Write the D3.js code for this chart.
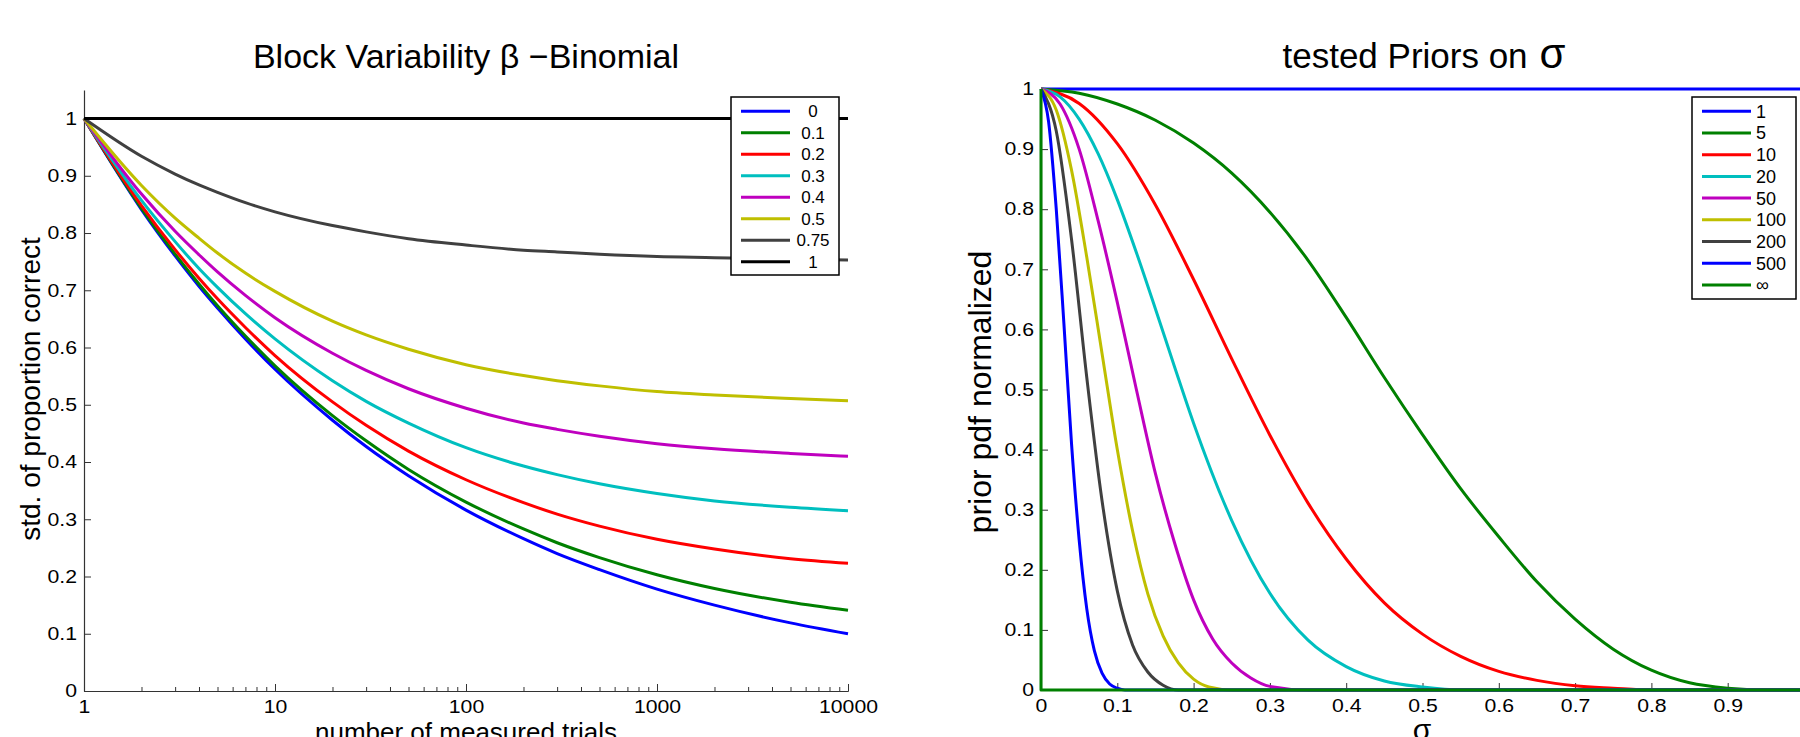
<!DOCTYPE html>
<html>
<head>
<meta charset="utf-8">
<script src="https://cdn.jsdelivr.net/npm/d3@7"></script>
<style>
  html, body { margin: 0; padding: 0; background: #fff; }
  svg { display: block; }
  text { font-family: "Liberation Sans", Arial, Helvetica, sans-serif; fill: #000; }
</style>
</head>
<body>
<script>
// ---------------- data: left panel ----------------
const trials = [1,2,3,4,5,7,10,20,30,50,100,200,300,500,1000,2000,5000,10000];
const betaLabels = ["0","0.1","0.2","0.3","0.4","0.5","0.75","1"];
const betaColors = ["#0000ff","#008000","#ff0000","#00bfbf","#bf00bf","#bfbf00","#404040","#000000"];
const std_b0   = [1,0.841,0.760,0.707,0.669,0.615,0.562,0.473,0.427,0.376,0.316,0.266,0.240,0.212,0.178,0.150,0.119,0.100];
const std_b01  = [1,0.843,0.763,0.711,0.673,0.620,0.568,0.481,0.437,0.387,0.330,0.283,0.259,0.233,0.203,0.179,0.155,0.141];
const std_b02  = [1,0.848,0.771,0.721,0.685,0.635,0.586,0.505,0.464,0.419,0.369,0.329,0.309,0.288,0.265,0.248,0.231,0.223];
const std_b03  = [1,0.857,0.785,0.738,0.705,0.659,0.615,0.542,0.506,0.468,0.425,0.393,0.378,0.362,0.345,0.332,0.321,0.315];
const std_b04  = [1,0.868,0.803,0.762,0.732,0.691,0.652,0.590,0.560,0.528,0.494,0.468,0.457,0.445,0.432,0.423,0.415,0.410];
const std_b05  = [1,0.883,0.826,0.791,0.765,0.730,0.698,0.646,0.622,0.597,0.570,0.551,0.542,0.533,0.523,0.517,0.511,0.507];
const std_b075 = [1,0.934,0.903,0.884,0.871,0.853,0.837,0.813,0.802,0.790,0.779,0.770,0.767,0.763,0.759,0.757,0.754,0.753];
const std_b1   = [1,1,1,1,1,1,1,1,1,1,1,1,1,1,1,1,1,1];
const leftYTicks = [0,0.1,0.2,0.3,0.4,0.5,0.6,0.7,0.8,0.9,1];
const leftXMajor = [1,10,100,1000,10000];

// ---------------- data: right panel ----------------
const priorLabels = ["1","5","10","20","50","100","200","500","\u221E"];
const priorColors = ["#0000ff","#008000","#ff0000","#00bfbf","#bf00bf","#bfbf00","#404040","#0000ff","#008000"];
const prior1Sigma   = [0,1];
const prior1        = [1,1];
const prior5Sigma   = [0,.05,.1,.15,.2,.25,.3,.35,.4,.45,.5,.55,.6,.65,.7,.75,.8,.85,.9,.95,1];
const prior5        = [1,.993,.975,.948,.91,.86,.795,.715,.62,.52,.425,.335,.255,.18,.118,.068,.033,.012,.003,0,0];
const prior10Sigma  = [0,.05,.1,.15,.2,.25,.3,.35,.4,.45,.5,.55,.6,.65,.7,.75,.8,1];
const prior10       = [1,.976,.909,.807,.683,.551,.424,.311,.218,.145,.093,.056,.031,.016,.007,.003,0,0];
const prior20Sigma  = [0,.025,.05,.075,.1,.125,.15,.175,.2,.25,.3,.35,.4,.45,.5,.55,1];
const prior20       = [1,.987,.95,.892,.816,.728,.634,.538,.444,.282,.161,.083,.039,.015,.005,0,0];
const prior50Sigma  = [0,.025,.05,.075,.1,.125,.15,.175,.2,.225,.25,.275,.3,.35,1];
const prior50       = [1,.975,.9,.78,.645,.5,.36,.245,.15,.085,.045,.02,.006,0,0];
const prior100Sigma = [0,.02,.04,.06,.08,.1,.12,.14,.16,.18,.2,.22,.25,1];
const prior100      = [1,.965,.865,.72,.56,.4,.265,.16,.09,.045,.018,.005,0,0];
const prior200Sigma = [0,.02,.04,.06,.08,.1,.12,.14,.16,.18,1];
const prior200      = [1,.93,.75,.52,.315,.165,.075,.03,.008,0,0];
const prior500Sigma = [0,.01,.02,.03,.04,.05,.06,.07,.08,.09,.1,.11,1];
const prior500      = [1,.945,.8,.61,.41,.25,.135,.065,.028,.01,.003,0,0];
const priorInfSigma = [0,0,1];
const priorInf      = [1,0,0];
const rightYTicks = [0,0.1,0.2,0.3,0.4,0.5,0.6,0.7,0.8,0.9,1];
const rightXTicks = [0,0.1,0.2,0.3,0.4,0.5,0.6,0.7,0.8,0.9];

// ---------------- drawing ----------------
const W = 1800, H = 737;
const svg = d3.select("body").append("svg").attr("width", W).attr("height", H);

const zip = (xs, ys) => xs.map((x, i) => [x, ys[i]]);
const STRETCH = 1.18;

function styleAxis(g) {
  g.select(".domain").attr("stroke", "#333").attr("stroke-width", 1.2);
  g.selectAll(".tick line").attr("stroke", "#333").attr("stroke-width", 1);
  g.selectAll(".tick text").attr("font-size", 18).attr("fill", "#000")
    .attr("font-family", "'Liberation Sans', Arial, Helvetica, sans-serif")
    .attr("x", function () { const x = this.getAttribute("x"); return x === null ? null : (+x) / STRETCH; })
    .attr("transform", `scale(${STRETCH},1)`);
}

// ===== Left panel =====
const xL = d3.scaleLog().domain([1, 10000]).range([84, 848]);
const yL = d3.scaleLinear().domain([0, 1.05]).range([691, 89.9]);

const leftSeries = [std_b0, std_b01, std_b02, std_b03, std_b04, std_b05, std_b075, std_b1];
const lineL = d3.line().x(d => xL(d[0])).y(d => yL(d[1])).curve(d3.curveMonotoneX);

const minorTicks = xL.ticks().filter(v => !leftXMajor.includes(v));
svg.append("g").attr("transform", "translate(0,691)")
  .call(d3.axisBottom(xL).tickValues(minorTicks).tickSize(-4).tickSizeOuter(0).tickFormat(""))
  .call(styleAxis);
svg.append("g").attr("transform", "translate(0,691)")
  .call(d3.axisBottom(xL).tickValues(leftXMajor).tickSize(-7).tickSizeOuter(0).tickPadding(9).tickFormat(d3.format("d")))
  .call(styleAxis);
svg.append("g").attr("transform", "translate(84,0)")
  .call(d3.axisLeft(yL).tickValues(leftYTicks).tickSize(-7).tickSizeOuter(0).tickPadding(7).tickFormat(d => d === 0 || d === 1 ? String(d) : d3.format(".1f")(d)))
  .call(styleAxis);

svg.append("g").selectAll("path").data(leftSeries).join("path")
  .attr("d", s => lineL(zip(trials, s)))
  .attr("fill", "none")
  .attr("stroke", (s, i) => betaColors[i])
  .attr("stroke-width", 3)
  .attr("stroke-linejoin", "round");

svg.append("text").attr("x", 466).attr("y", 68).attr("text-anchor", "middle")
  .attr("font-size", 34).text("Block Variability \u03B2 \u2212Binomial");
svg.append("text").attr("x", 466).attr("y", 741).attr("text-anchor", "middle")
  .attr("font-size", 26).text("number of measured trials");
svg.append("text").attr("transform", "translate(40,389) rotate(-90)").attr("text-anchor", "middle")
  .attr("font-size", 28).text("std. of proportion correct");

const legL = svg.append("g");
legL.append("rect").attr("x", 731).attr("y", 97).attr("width", 108).attr("height", 178)
  .attr("fill", "#fff").attr("stroke", "#000").attr("stroke-width", 1.5);
betaLabels.forEach((lab, i) => {
  const y = 111.3 + i * 21.5;
  legL.append("line").attr("x1", 741).attr("x2", 790).attr("y1", y).attr("y2", y)
    .attr("stroke", betaColors[i]).attr("stroke-width", 3);
  legL.append("text").attr("x", 813).attr("y", y).attr("dy", "0.36em").attr("text-anchor", "middle")
    .attr("font-size", 17).text(lab);
});

// ===== Right panel =====
const xR = d3.scaleLinear().domain([0, 1]).range([1041, 1804]);
const yR = d3.scaleLinear().domain([0, 1]).range([690, 89]);

svg.append("g").attr("transform", "translate(0,690)")
  .call(d3.axisBottom(xR).tickValues(rightXTicks).tickSize(-7).tickSizeOuter(0).tickPadding(9).tickFormat(d => d === 0 ? "0" : d3.format(".1f")(d)))
  .call(styleAxis);
svg.append("g").attr("transform", "translate(1041,0)")
  .call(d3.axisLeft(yR).tickValues(rightYTicks).tickSize(-7).tickSizeOuter(0).tickPadding(7).tickFormat(d => d === 0 || d === 1 ? String(d) : d3.format(".1f")(d)))
  .call(styleAxis);

const rightSeries = [
  [prior1Sigma, prior1], [prior5Sigma, prior5], [prior10Sigma, prior10], [prior20Sigma, prior20],
  [prior50Sigma, prior50], [prior100Sigma, prior100], [prior200Sigma, prior200], [prior500Sigma, prior500],
  [priorInfSigma, priorInf]
];
const lineR = d3.line().x(d => xR(d[0])).y(d => yR(d[1])).curve(d3.curveMonotoneX);
const lineRlin = d3.line().x(d => xR(d[0])).y(d => yR(d[1]));

svg.append("g").selectAll("path").data(rightSeries).join("path")
  .attr("d", (s, i) => (i === rightSeries.length - 1 ? lineRlin : lineR)(zip(s[0], s[1])))
  .attr("fill", "none")
  .attr("stroke", (s, i) => priorColors[i])
  .attr("stroke-width", 3)
  .attr("stroke-linejoin", "round");

const tR = svg.append("text").attr("x", 1424).attr("y", 68).attr("text-anchor", "middle")
  .attr("font-size", 35);
tR.append("tspan").text("tested Priors on");
tR.append("tspan").attr("dx", 12).attr("font-size", 42).text("\u03C3");
svg.append("text").attr("x", 1422).attr("y", 740).attr("text-anchor", "middle")
  .attr("font-size", 30).text("\u03C3");
svg.append("text").attr("transform", "translate(991,392) rotate(-90)").attr("text-anchor", "middle")
  .attr("font-size", 32).text("prior pdf normalized");

const legR = svg.append("g");
legR.append("rect").attr("x", 1692).attr("y", 97).attr("width", 104).attr("height", 202)
  .attr("fill", "#fff").attr("stroke", "#000").attr("stroke-width", 1.5);
priorLabels.forEach((lab, i) => {
  const y = 111.3 + i * 21.7;
  legR.append("line").attr("x1", 1702).attr("x2", 1751).attr("y1", y).attr("y2", y)
    .attr("stroke", priorColors[i]).attr("stroke-width", 3);
  legR.append("text").attr("x", 1756).attr("y", y).attr("dy", "0.36em").attr("text-anchor", "start")
    .attr("font-size", 18).text(lab);
});
</script>
</body>
</html>
